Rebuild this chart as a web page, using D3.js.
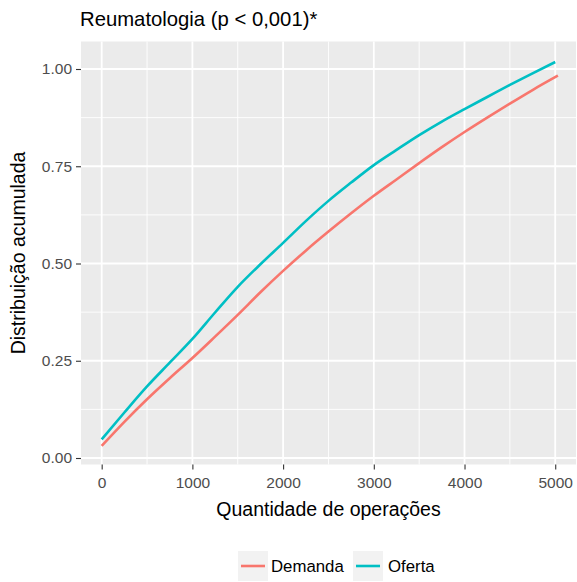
<!DOCTYPE html>
<html>
<head>
<meta charset="utf-8">
<script src="https://cdn.jsdelivr.net/npm/d3@7"></script>
<style>
  html, body { margin: 0; padding: 0; background: #ffffff; }
  svg { display: block; font-family: "Liberation Sans", Arial, sans-serif; }
</style>
</head>
<body>
<svg id="chart" width="577" height="582"></svg>
<script>
// ---- Data ----
const titleText = "Reumatologia (p < 0,001)*";
const xTitle = "Quantidade de operações";
const yTitle = "Distribuição acumulada";
const seriesNames = ["Demanda", "Oferta"];
const seriesColors = ["#F8766D", "#00BFC4"];

const demandaX = [0, 250, 500, 750, 1000, 1250, 1500, 1750, 2000, 2250, 2500, 2750, 3000, 3250, 3500, 3750, 4000, 4250, 4500, 4750, 5030];
const demandaY = [0.031, 0.093, 0.151, 0.205, 0.257, 0.312, 0.368, 0.426, 0.481, 0.533, 0.582, 0.629, 0.674, 0.716, 0.758, 0.799, 0.838, 0.875, 0.911, 0.946, 0.983];

const ofertaX = [0, 250, 500, 750, 1000, 1250, 1500, 1750, 2000, 2250, 2500, 2750, 3000, 3250, 3500, 3750, 4000, 4250, 4500, 4750, 5000];
const ofertaY = [0.048, 0.117, 0.184, 0.245, 0.306, 0.374, 0.440, 0.498, 0.553, 0.609, 0.661, 0.708, 0.753, 0.792, 0.830, 0.865, 0.897, 0.928, 0.959, 0.989, 1.018];

const xTicks = [0, 1000, 2000, 3000, 4000, 5000];
const xMinor = [500, 1500, 2500, 3500, 4500];
const yTicks = [0, 0.25, 0.5, 0.75, 1.0];
const yMinor = [0.125, 0.375, 0.625, 0.875];

// ---- Layout ----
const panel = { left: 81, right: 576, top: 41.5, bottom: 464.5 };

const x = d3.scaleLinear().domain([-228, 5229]).range([panel.left, panel.right]);
const y = d3.scaleLinear().domain([-0.0167, 1.0707]).range([panel.bottom, panel.top]);

const svg = d3.select("#chart");

// panel background
svg.append("rect")
  .attr("x", panel.left).attr("y", panel.top)
  .attr("width", panel.right - panel.left).attr("height", panel.bottom - panel.top)
  .attr("fill", "#EBEBEB");

const grid = svg.append("g");
// minor grid
grid.selectAll("line.xminor").data(xMinor).enter().append("line")
  .attr("x1", d => x(d)).attr("x2", d => x(d))
  .attr("y1", panel.top).attr("y2", panel.bottom)
  .attr("stroke", "#FFFFFF").attr("stroke-width", 0.9);
grid.selectAll("line.yminor").data(yMinor).enter().append("line")
  .attr("y1", d => y(d)).attr("y2", d => y(d))
  .attr("x1", panel.left).attr("x2", panel.right)
  .attr("stroke", "#FFFFFF").attr("stroke-width", 0.9);
// major grid
grid.selectAll("line.xmajor").data(xTicks).enter().append("line")
  .attr("x1", d => x(d)).attr("x2", d => x(d))
  .attr("y1", panel.top).attr("y2", panel.bottom)
  .attr("stroke", "#FFFFFF").attr("stroke-width", 1.8);
grid.selectAll("line.ymajor").data(yTicks).enter().append("line")
  .attr("y1", d => y(d)).attr("y2", d => y(d))
  .attr("x1", panel.left).attr("x2", panel.right)
  .attr("stroke", "#FFFFFF").attr("stroke-width", 1.8);

// series lines
const series = [
  { name: seriesNames[0], color: seriesColors[0], xs: demandaX, ys: demandaY },
  { name: seriesNames[1], color: seriesColors[1], xs: ofertaX, ys: ofertaY }
];
const line = d3.line().x(d => x(d[0])).y(d => y(d[1])).curve(d3.curveMonotoneX);
series.forEach(s => {
  const pts = s.xs.map((v, i) => [v, s.ys[i]]);
  svg.append("path")
    .datum(pts)
    .attr("d", line)
    .attr("fill", "none")
    .attr("stroke", s.color)
    .attr("stroke-width", 2.6)
    .attr("stroke-linejoin", "round");
});

// axes
const xAxis = d3.axisBottom(x).tickValues(xTicks).tickSize(5).tickPadding(4).tickFormat(d3.format("d"));
const gx = svg.append("g").attr("transform", `translate(0,${panel.bottom})`).call(xAxis);
gx.select(".domain").remove();
gx.selectAll(".tick line").attr("stroke", "#333333").attr("stroke-width", 1.1);
gx.selectAll(".tick text").attr("fill", "#4D4D4D").attr("font-size", "15.5px")
  .attr("font-family", "Liberation Sans, Arial, sans-serif").attr("dy", "0.95em");

const yAxis = d3.axisLeft(y).tickValues(yTicks).tickSize(5).tickPadding(4).tickFormat(d3.format(".2f"));
const gy = svg.append("g").attr("transform", `translate(${panel.left},0)`).call(yAxis);
gy.select(".domain").remove();
gy.selectAll(".tick line").attr("stroke", "#333333").attr("stroke-width", 1.1);
gy.selectAll(".tick text").attr("fill", "#4D4D4D").attr("font-size", "15.5px")
  .attr("font-family", "Liberation Sans, Arial, sans-serif");

// titles
svg.append("text").attr("x", 80).attr("y", 26)
  .attr("font-size", "20.3px").attr("fill", "#000000").text(titleText);

svg.append("text").attr("x", (panel.left + panel.right) / 2).attr("y", 516)
  .attr("text-anchor", "middle").attr("font-size", "19.5px").attr("fill", "#000000").text(xTitle);

svg.append("text")
  .attr("transform", `translate(25,${(panel.top + panel.bottom) / 2}) rotate(-90)`)
  .attr("text-anchor", "middle").attr("font-size", "19.5px").attr("fill", "#000000").text(yTitle);

// legend
const legend = svg.append("g");
const keyX = [238, 353];
const labelX = [271, 388];
series.forEach((s, i) => {
  legend.append("rect").attr("x", keyX[i]).attr("y", 551).attr("width", 30).attr("height", 30)
    .attr("fill", "#F2F2F2");
  legend.append("line").attr("x1", keyX[i] + 3).attr("x2", keyX[i] + 27)
    .attr("y1", 566).attr("y2", 566).attr("stroke", s.color).attr("stroke-width", 2.6);
  legend.append("text").attr("x", labelX[i]).attr("y", 572)
    .attr("font-size", "16.8px").attr("fill", "#000000").text(s.name);
});
</script>
</body>
</html>
